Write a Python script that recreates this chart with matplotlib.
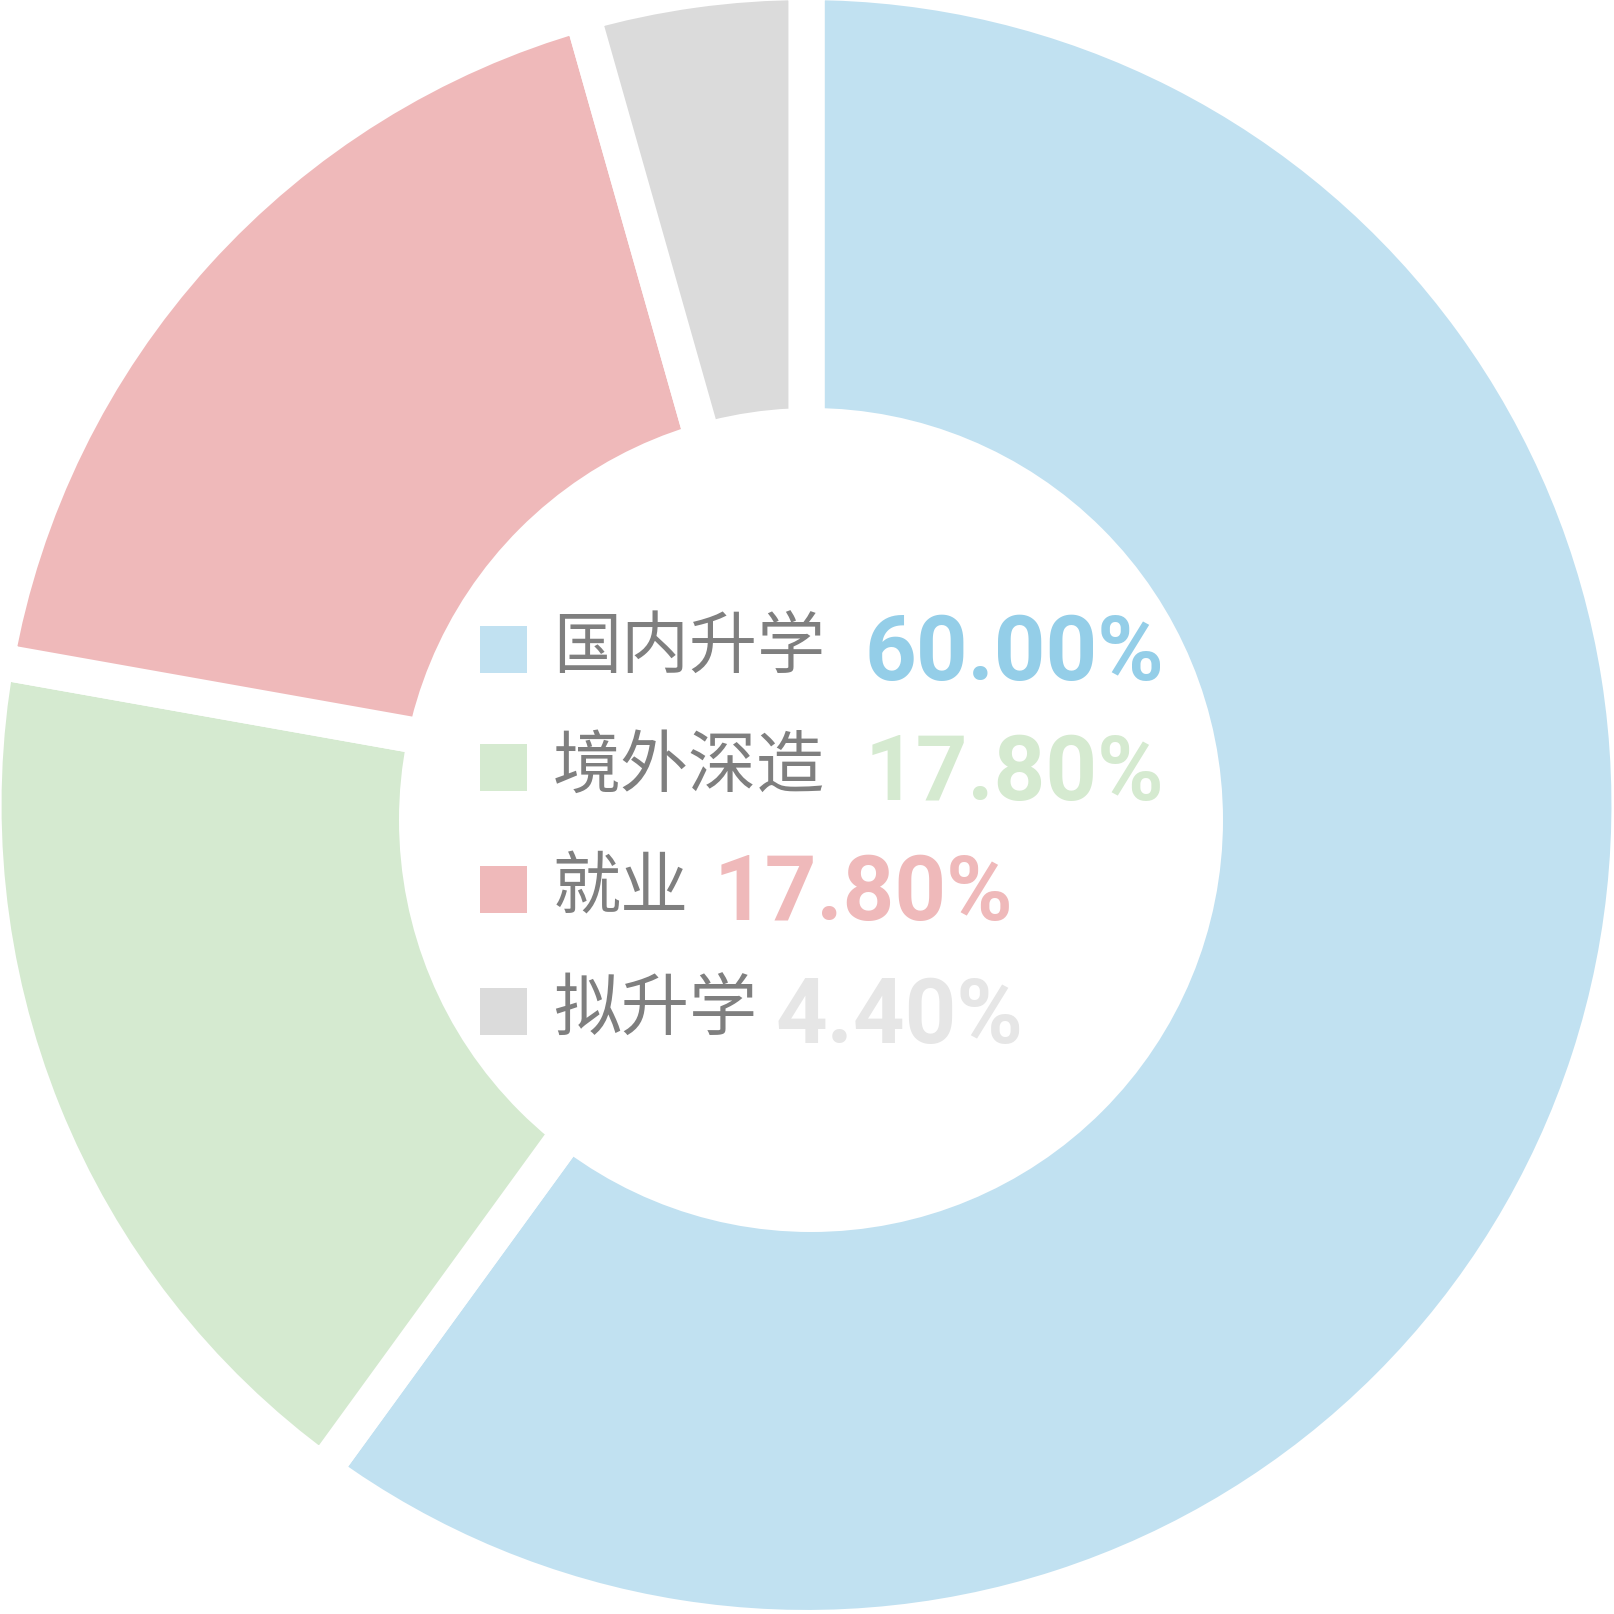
import matplotlib
matplotlib.use("Agg")
import matplotlib.pyplot as plt
from matplotlib.patches import Circle

categories = ["国内升学", "境外深造", "就业", "拟升学"]
values = [60.00, 17.80, 17.80, 4.40]
pct_labels = ["60.00%", "17.80%", "17.80%", "4.40%"]
wedge_colors = ["#C1E1F1", "#D5EAD0", "#EFB9BA", "#DBDBDB"]
pct_colors = ["#94CEE8", "#D5EAD0", "#EFB9BA", "#E6E6E6"]

W = 1615
fig = plt.figure(figsize=(W / 100, W / 100), dpi=100)
ax = fig.add_axes([0, 0, 1, 1])

ax.pie(values, colors=wedge_colors, startangle=90, counterclock=False,
       center=(806.5, W - 806), radius=823, frame=True,
       wedgeprops=dict(edgecolor="white", linewidth=26, joinstyle="miter"))
ax.set_xlim(0, W)
ax.set_ylim(0, W)
ax.set_aspect("equal")
ax.axis("off")
ax.add_patch(Circle((811, W - 821), 412, facecolor="white", edgecolor="none", zorder=5))

sq_y = [650, 768, 890, 1012]
baselines = [680, 800, 920, 1043]
pct_x = [865, 865, 714, 776]
for i, cat in enumerate(categories):
    y = W - sq_y[i]
    ax.add_patch(plt.Rectangle((480, y - 23.5), 47, 47, facecolor=wedge_colors[i],
                               edgecolor="none", zorder=6))
    ax.text(553, y, cat, fontsize=49, color="#7F7F7F", va="center", ha="left",
            family=["Noto Sans CJK SC", "DejaVu Sans"], fontweight="medium", zorder=7)
    ax.text(pct_x[i], W - baselines[i], pct_labels[i], fontsize=65, color=pct_colors[i],
            va="baseline", ha="left", family=["Roboto", "DejaVu Sans"],
            fontweight="bold", zorder=7)

fig.savefig("out.png", dpi=100, facecolor="white")
